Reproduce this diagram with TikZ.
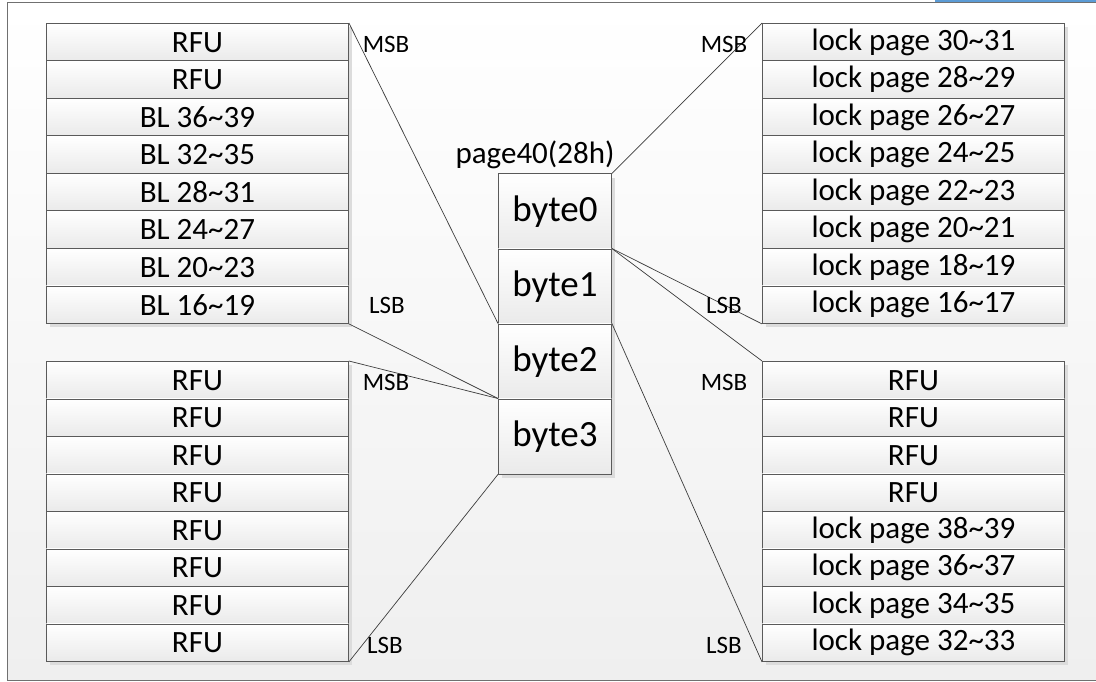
\documentclass[tikz,border=0pt]{standalone}
\usepackage{fontspec}
\setmainfont{Carlito}
\usetikzlibrary{shadows}
\definecolor{edgec}{HTML}{5A5A5A}
\definecolor{linec}{HTML}{3C3C3C}
\definecolor{framec}{HTML}{707070}
\definecolor{bgbot}{HTML}{EFEFEF}
\definecolor{boxbot}{HTML}{EAEAEA}
\definecolor{shadowc}{HTML}{DCDCDC}
\definecolor{bluec}{HTML}{5B9BD5}
\begin{document}
\begin{tikzpicture}[x=1pt,y=-1pt,
  rowbox/.style={draw=edgec, line width=0.9pt, top color=white, bottom color=boxbot,
    minimum width=302pt, minimum height=37.5pt, inner sep=0pt, anchor=north west,
    font=\fontsize{31}{31}\selectfont,
    drop shadow={shadow xshift=4pt, shadow yshift=-4pt, fill=shadowc, opacity=1}},
  bytebox/.style={draw=edgec, line width=0.9pt, top color=white, bottom color=boxbot,
    minimum width=113pt, minimum height=75pt, inner sep=0pt, anchor=north west,
    font=\fontsize{37}{37}\selectfont,
    drop shadow={shadow xshift=4pt, shadow yshift=-4pt, fill=shadowc, opacity=1}},
  bitlabel/.style={font=\fontsize{25}{25}\selectfont, inner sep=0pt},
  conn/.style={draw=linec, line width=0.7pt}]
\useasboundingbox (0,0) rectangle (1096,682);
\fill[white] (0,0) rectangle (1096,682);
\shade[top color=white, bottom color=bgbot] (7,3) rectangle (1096,680);
\draw[framec, line width=1pt] (1096,3) -- (7,3) -- (7,680) -- (1096,680);
\draw[bluec, line width=1.6pt] (935,0.8) -- (1096,0.8);

% left top group
\foreach \t [count=\i] in {RFU,RFU,BL 36\textasciitilde39,BL 32\textasciitilde35,BL 28\textasciitilde31,BL 24\textasciitilde27,BL 20\textasciitilde23,BL 16\textasciitilde19}
  \node[rowbox] (lt\i) at (46,{23+37.5*(\i-1)}) {\t};
% left bottom group
\foreach \i in {1,...,8}
  \node[rowbox] (lb\i) at (46,{361+37.5*(\i-1)}) {RFU};
% right top group
\foreach \t [count=\i] in {30\textasciitilde31,28\textasciitilde29,26\textasciitilde27,24\textasciitilde25,22\textasciitilde23,20\textasciitilde21,18\textasciitilde19,16\textasciitilde17}
  \node[rowbox] (rt\i) at (762,{23+37.5*(\i-1)}) {lock page \t};
% right bottom group
\foreach \t [count=\i] in {RFU,RFU,RFU,RFU,lock page 38\textasciitilde39,lock page 36\textasciitilde37,lock page 34\textasciitilde35,lock page 32\textasciitilde33}
  \node[rowbox] (rb\i) at (762,{361+37.5*(\i-1)}) {\t};

% central bytes
\foreach \i in {0,...,3}
  \node[bytebox] (b\i) at (498,{173.5+75*\i}) {byte\i};
\node[font=\fontsize{31}{31}\selectfont, inner sep=0pt] (title) at (535,155) {page40(28h)};

% connectors
\draw[conn] (lt1.north east) -- (b2.north west);
\draw[conn] (lt8.south east) -- (b3.north west);
\draw[conn] (lb1.north east) -- (b3.north west);
\draw[conn] (lb8.south east) -- (b3.south west);
\draw[conn] (rt1.north west) -- (b0.north east);
\draw[conn] (rt8.south west) -- (b1.north east);
\draw[conn] (rb1.north west) -- (b1.north east);
\draw[conn] (rb8.south west) -- (b2.north east);

% MSB / LSB labels
\node[bitlabel] (lmsb1) at (386,44) {MSB};
\node[bitlabel] (llsb1) at (387,305) {LSB};
\node[bitlabel] (lmsb2) at (386,382) {MSB};
\node[bitlabel] (llsb2) at (385,645) {LSB};
\node[bitlabel] (rmsb1) at (724,44) {MSB};
\node[bitlabel] (rlsb1) at (724,305) {LSB};
\node[bitlabel] (rmsb2) at (724,382) {MSB};
\node[bitlabel] (rlsb2) at (724,645) {LSB};
\end{tikzpicture}
\end{document}
